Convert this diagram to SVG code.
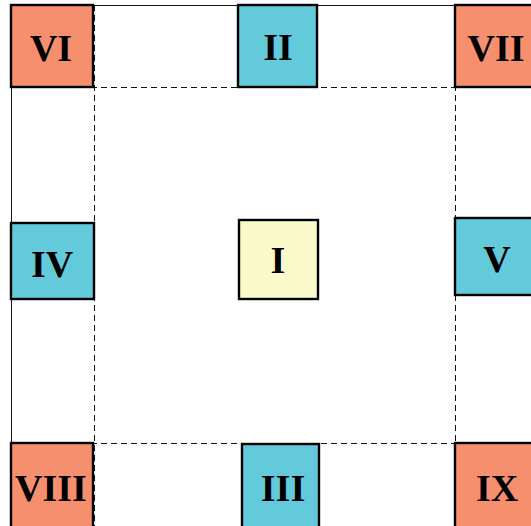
<svg xmlns="http://www.w3.org/2000/svg" width="531" height="526" viewBox="0 0 531 526">
  <style>
    .frame { fill: none; stroke: #111; stroke-width: 1; }
    .guide { fill: none; stroke: #111; stroke-width: 1; stroke-dasharray: 6 4; }
    .box { stroke: #000; stroke-width: 2.4; }
    .corner { fill: #F58F6E; }
    .edge { fill: #62CADB; }
    .center { fill: #F9F9CA; }
    .lbl { font-family: "Liberation Serif", "Times New Roman", serif; font-weight: bold; font-size: 38px; text-anchor: middle; fill: #000; }
  </style>
  <rect width="531" height="526" fill="#fff"/>

  <!-- outer frame -->
  <rect class="frame" x="11.5" y="5.5" width="540" height="540"/>

  <!-- dashed guide lines -->
  <g id="connectors">
    <line class="guide" x1="11" y1="87.5" x2="531" y2="87.5"/>
    <line class="guide" x1="11" y1="443.5" x2="531" y2="443.5"/>
    <line class="guide" x1="94.5" y1="5" x2="94.5" y2="526"/>
    <line class="guide" x1="455.5" y1="5" x2="455.5" y2="526"/>
  </g>

  <g id="node-VI">
    <rect class="box corner" x="11" y="5" width="82" height="82"/>
    <text class="lbl" x="51" y="61">VI</text>
  </g>
  <g id="node-II">
    <rect class="box edge" x="238" y="5" width="79" height="82"/>
    <text class="lbl" x="278" y="60">II</text>
  </g>
  <g id="node-VII">
    <rect class="box corner" x="455" y="5" width="82" height="82"/>
    <text class="lbl" x="496" y="61">VII</text>
  </g>
  <g id="node-IV">
    <rect class="box edge" x="11" y="223" width="83" height="76"/>
    <text class="lbl" x="52" y="277">IV</text>
  </g>
  <g id="node-I">
    <rect class="box center" x="239" y="220" width="79" height="79"/>
    <text class="lbl" x="278" y="273">I</text>
  </g>
  <g id="node-V">
    <rect class="box edge" x="455" y="218" width="82" height="77"/>
    <text class="lbl" x="497" y="272">V</text>
  </g>
  <g id="node-VIII">
    <rect class="box corner" x="11" y="443" width="82" height="90"/>
    <text class="lbl" x="51" y="501">VIII</text>
  </g>
  <g id="node-III">
    <rect class="box edge" x="242" y="444" width="77" height="90"/>
    <text class="lbl" x="283" y="501">III</text>
  </g>
  <g id="node-IX">
    <rect class="box corner" x="455" y="443" width="82" height="90"/>
    <text class="lbl" x="497" y="501">IX</text>
  </g>
</svg>
